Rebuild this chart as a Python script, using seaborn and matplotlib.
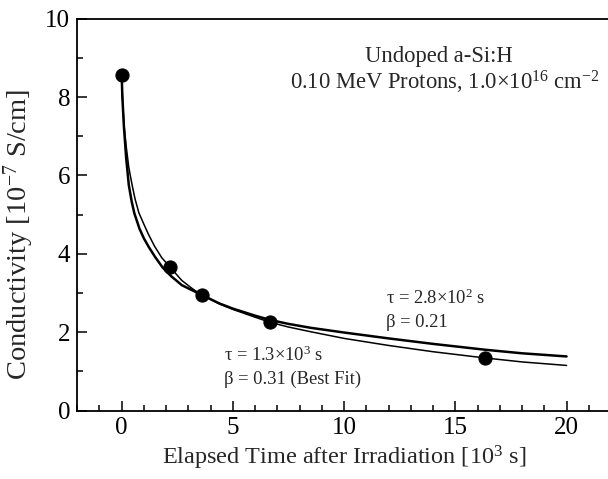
import numpy as np
import pandas as pd
import matplotlib
matplotlib.use("Agg")
import matplotlib.pyplot as plt
import seaborn as sns
from matplotlib.ticker import MultipleLocator

# Measured data points
time_pts = [0.0, 2.19, 3.60, 6.68, 16.35]
cond_pts = [8.55, 3.65, 2.95, 2.25, 1.33]

# Fit curve, tau = 2.8e2 s, beta = 0.21
fit1_x = [0, 0.03, 0.1, 0.2, 0.32, 0.45, 0.57, 0.8, 1.0, 1.21, 1.5, 1.84,
          2.2, 2.7, 3.2, 3.6, 4.4, 5.0, 6.0, 6.68, 7.5, 8.5, 10.0, 12.0,
          14.0, 16.35, 18.0, 20.0]
fit1_y = [8.55, 8.0, 7.24, 6.45, 5.75, 5.33, 5.03, 4.64, 4.39, 4.18, 3.92,
          3.65, 3.44, 3.2, 3.06, 2.95, 2.73, 2.60, 2.42, 2.31, 2.21, 2.11,
          1.99, 1.84, 1.70, 1.55, 1.46, 1.38]

# Best fit curve, tau = 1.3e3 s, beta = 0.31
fit2_x = [0, 0.03, 0.1, 0.2, 0.32, 0.47, 0.6, 0.77, 1.0, 1.2, 1.47, 1.8,
          2.19, 2.7, 3.2, 3.6, 4.4, 5.0, 6.0, 6.68, 7.5, 8.5, 10.0, 12.0,
          14.0, 16.35, 18.0, 20.0]
fit2_y = [8.55, 8.05, 7.3, 6.75, 6.2, 5.75, 5.4, 5.05, 4.75, 4.5, 4.2, 3.9,
          3.65, 3.32, 3.1, 2.95, 2.72, 2.58, 2.38, 2.25, 2.13, 2.01, 1.84,
          1.66, 1.50, 1.34, 1.24, 1.15]

sns.set_style("ticks")
plt.rcParams["font.family"] = ["Liberation Serif", "DejaVu Serif"]
plt.rcParams["mathtext.fontset"] = "custom"
plt.rcParams["mathtext.rm"] = "Liberation Serif"
plt.rcParams["mathtext.it"] = "Liberation Serif:italic"
plt.rcParams["mathtext.default"] = "rm"

fig = plt.figure(figsize=(6.08, 4.79), dpi=100)
ax = fig.add_axes([0.127, 0.143, 0.878, 0.818])

df1 = pd.DataFrame({"t": fit1_x, "s": fit1_y})
df2 = pd.DataFrame({"t": fit2_x, "s": fit2_y})
sns.lineplot(data=df1, x="t", y="s", ax=ax, color="black", linewidth=1.8)
sns.lineplot(data=df2, x="t", y="s", ax=ax, color="black", linewidth=1.1)
sns.scatterplot(x=time_pts, y=cond_pts, ax=ax, color="black", s=90,
                edgecolor="black", zorder=5)

ax.set_xlim(-2, 22)
ax.set_ylim(0, 10)
ax.xaxis.set_major_locator(MultipleLocator(5))
ax.xaxis.set_minor_locator(MultipleLocator(1))
ax.yaxis.set_major_locator(MultipleLocator(2))
ax.yaxis.set_minor_locator(MultipleLocator(1))
ax.tick_params(which="both", direction="in", top=False, right=False,
               labelsize=18, width=1.1, colors="black")
ax.tick_params(which="major", length=7, pad=5)
ax.tick_params(which="minor", length=4)
ax.spines["right"].set_visible(False)
for sp in ["left", "bottom", "top"]:
    ax.spines[sp].set_linewidth(1.3)
    ax.spines[sp].set_color("black")

ax.set_xlabel(r"Elapsed Time after Irradiation [10$^{3}$ s]", fontsize=17.5, labelpad=3)
ax.set_ylabel(r"Conductivity [10$^{-7}$ S/cm]", fontsize=20.5)
ax.yaxis.set_label_coords(-0.078, 0.45)

ax.text(14.27, 8.89, "Undoped a-Si:H", ha="center", va="baseline", fontsize=16.3)
ax.text(14.54, 8.18, r"0.10 MeV Protons, 1.0×10$^{16}$ cm$^{-2}$",
        ha="center", va="baseline", fontsize=16.3)
ax.text(11.9, 2.71, r"τ = 2.8×10$^{2}$ s", ha="left", va="baseline", fontsize=13.3)
ax.text(11.9, 2.14, "β = 0.21", ha="left", va="baseline", fontsize=13.3)
ax.text(4.58, 1.27, r"τ = 1.3×10$^{3}$ s", ha="left", va="baseline", fontsize=13.3)
ax.text(4.58, 0.68, "β = 0.31 (Best Fit)", ha="left", va="baseline", fontsize=13.3)

fig.savefig("out.png", dpi=100)
